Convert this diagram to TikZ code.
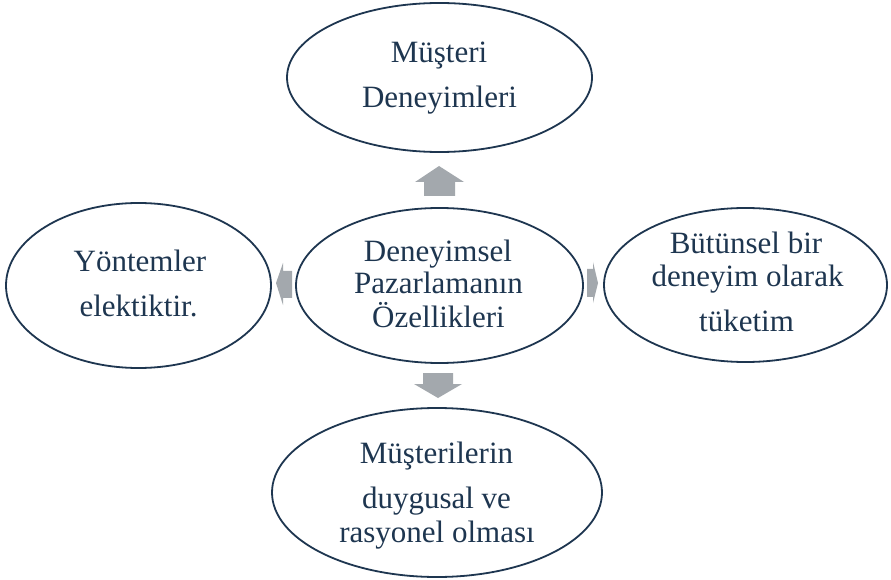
\documentclass[tikz,border=0pt]{standalone}
\usepackage{fontspec}
\setmainfont{Liberation Serif}
\usetikzlibrary{shapes.geometric}
\definecolor{navy}{HTML}{1E3650}
\definecolor{arrowgray}{HTML}{A3A8AD}
\begin{document}
\begin{tikzpicture}[x=1pt,y=1pt,
  oval/.style={draw=navy,line width=1.8pt,ellipse,inner sep=0pt,fill=white},
  lbl/.style={anchor=base,inner sep=0pt,text=navy,font=\fontsize{31}{31}\selectfont},
  blockarrow/.style={fill=arrowgray,draw=none}]
\useasboundingbox (0,0) rectangle (891,579);
\fill[white] (0,0) rectangle (891,579);
% ellipses
\node[oval,minimum width=305pt,minimum height=149pt] (top) at (439.5,501.5) {};
\node[oval,minimum width=287pt,minimum height=155pt] (mid) at (439.5,293.5) {};
\node[oval,minimum width=265pt,minimum height=165pt] (left) at (138.5,293.5) {};
\node[oval,minimum width=283pt,minimum height=154pt] (right) at (745.5,294) {};
\node[oval,minimum width=330pt,minimum height=169pt] (bottom) at (437,86.5) {};
% texts
\node[lbl] (t1) at (439,516) {Müşteri};
\node[lbl] (t2) at (439.5,471) {Deneyimleri};
\node[lbl] (m1) at (438,317) {Deneyimsel};
\node[lbl] (m2) at (438.5,286) {Pazarlamanın};
\node[lbl] (m3) at (438.5,252) {Özellikleri};
\node[lbl] (l1) at (140,307) {Yöntemler};
\node[lbl] (l2) at (138.5,262) {elektiktir.};
\node[lbl] (r1) at (746,325) {Bütünsel bir};
\node[lbl] (r2) at (747.5,292) {deneyim olarak};
\node[lbl] (r3) at (746.5,248) {tüketim};
\node[lbl] (b1) at (436.5,116) {Müşterilerin};
\node[lbl] (b2) at (436.5,71) {duygusal ve};
\node[lbl] (b3) at (437,37) {rasyonel olması};
% block arrows
\fill[blockarrow] (424,383) -- (455,383) -- (455,397) -- (464,397) -- (439,413) -- (415,397) -- (424,397) -- cycle;
\fill[blockarrow] (423,206) -- (453,206) -- (453,195) -- (462,195) -- (438,181) -- (414,195) -- (423,195) -- cycle;
\fill[blockarrow] (292,308) -- (283,308) -- (283,316) -- (276,296) -- (283,274) -- (283,281) -- (292,281) -- cycle;
\fill[blockarrow] (587,310) -- (593,310) -- (593,317) -- (598,296) -- (593,276) -- (593,282) -- (587,282) -- cycle;
\end{tikzpicture}
\end{document}
